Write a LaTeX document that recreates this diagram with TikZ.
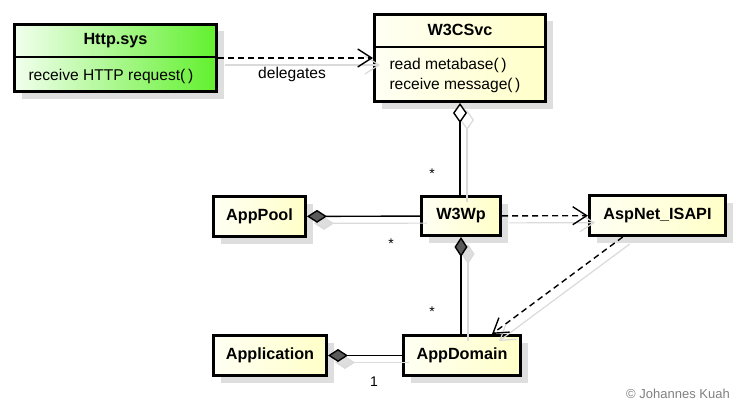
\documentclass[tikz,border=0pt]{standalone}
\usepackage{fontspec}
\setmainfont{Liberation Sans}
\usetikzlibrary{arrows.meta,calc,shadows}
\definecolor{boxL}{RGB}{255,255,244}
\definecolor{boxR}{RGB}{255,255,200}
\definecolor{grnL}{RGB}{242,255,238}
\definecolor{grnR}{RGB}{98,240,46}
\definecolor{shad}{RGB}{222,222,222}
\definecolor{shline}{RGB}{218,218,218}
\definecolor{diafill}{RGB}{90,90,90}
\begin{document}
\begin{tikzpicture}[x=1pt,y=-1pt,
  every node/.style={font=\fontsize{15.6}{18}\selectfont},
  clsbox/.style={draw=black, line width=3pt, rectangle, inner sep=0pt,
    left color=boxL, right color=boxR,
    drop shadow={shadow xshift=7pt, shadow yshift=-7pt, fill=shad, opacity=1}},
  grnbox/.style={clsbox, left color=grnL, right color=grnR},
  clsname/.style={font=\fontsize{16.2}{18}\selectfont\bfseries},
  conn/.style={draw=black, line width=1.4pt},
  depline/.style={conn, dash pattern=on 6pt off 4pt, -{Straight Barb[length=14pt,width=18pt]}},
  aggline/.style={conn, {Diamond[length=20pt,width=14pt,fill=white]}-},
  compline/.style={conn, {Diamond[length=20pt,width=13pt,fill=diafill]}-},
  shconn/.style={draw=shline, line width=1.2pt, transform canvas={shift={(7,7)}}},
  shdep/.style={shconn, -{Straight Barb[length=14pt,width=18pt]}},
  shagg/.style={shconn, {Diamond[length=20pt,width=14pt,fill=white]}-},
  shcomp/.style={shconn, {Diamond[length=20pt,width=13pt,fill=shad]}-},
  mult/.style={font=\fontsize{14}{16}\selectfont}
]
\useasboundingbox (0,0) rectangle (739,404);

% boxes
\node[grnbox, minimum width=202pt, minimum height=67pt] (http) at (115.5,58) {};
\node[clsbox, minimum width=171pt, minimum height=87pt] (w3c) at (460,58) {};
\node[clsbox, minimum width=79pt, minimum height=39pt] (w3wp) at (461,216) {};
\node[clsbox, minimum width=92pt, minimum height=40pt] (apppool) at (259.5,216.5) {};
\node[clsbox, minimum width=136pt, minimum height=40pt] (asp) at (657.5,215.5) {};
\node[clsbox, minimum width=113pt, minimum height=40pt] (application) at (270,355.5) {};
\node[clsbox, minimum width=117pt, minimum height=40pt] (appdomain) at (462,355.5) {};

% compartment separators
\draw[line width=1.3pt] (http.west |- 0,57) -- (http.east |- 0,57);
\draw[line width=1.3pt] (w3c.west |- 0,47) -- (w3c.east |- 0,47);

% texts
\node[clsname] (httpT) at (115.5,41) {Http.sys};
\node[anchor=west] (httpB) at (25,76) {receive HTTP request(\,)};
\node[clsname] (w3cT) at (460,30) {W3CSvc};
\node[anchor=west] (w3cB1) at (386,65) {read metabase(\,)};
\node[anchor=west] (w3cB2) at (386,85) {receive message(\,)};
\node[clsname] (w3wpT) at (w3wp) {W3Wp};
\node[clsname] (apppoolT) at (apppool) {AppPool};
\node[clsname] (aspT) at (asp) {AspNet\_ISAPI};
\node[clsname] (applicationT) at (application) {Application};
\node[clsname] (appdomainT) at (appdomain) {AppDomain};

% connector anchors
\coordinate (aspOut) at ($(asp.south west)!0.25!(asp.south east)$);
\coordinate (adIn) at ($(appdomain.north west)!0.75!(appdomain.north east)$);

% connector shadows
\draw[shdep] (http) -- (w3c);
\draw[shagg] (w3c.south) -- (w3c.south |- w3wp.north);
\draw[shcomp] (apppool) -- (w3wp);
\draw[shcomp] (w3wp.south) -- (w3wp.south |- appdomain.north);
\draw[shcomp] (application) -- (appdomain);
\draw[shdep] (w3wp) -- (asp);
\draw[shdep] (aspOut) -- (adIn);

% connectors
\draw[depline] (http) -- (w3c);
\draw[aggline] (w3c.south) -- (w3c.south |- w3wp.north);
\draw[compline] (apppool) -- (w3wp);
\draw[compline] (w3wp.south) -- (w3wp.south |- appdomain.north);
\draw[compline] (application) -- (appdomain);
\draw[depline] (w3wp) -- (asp);
\draw[depline] (aspOut) -- (adIn);

% labels
\node (lblDeleg) at (292,74) {delegates};
\node[mult, anchor=base] (m1) at (432,178) {*};
\node[mult, anchor=base] (m2) at (391,248) {*};
\node[mult, anchor=base] (m3) at (432,316) {*};
\node[mult] (m4) at (374,382) {1};
\node[font=\fontsize{13}{15}\selectfont, text=gray] (copy) at (678,394) {© Johannes Kuah};
\end{tikzpicture}
\end{document}
